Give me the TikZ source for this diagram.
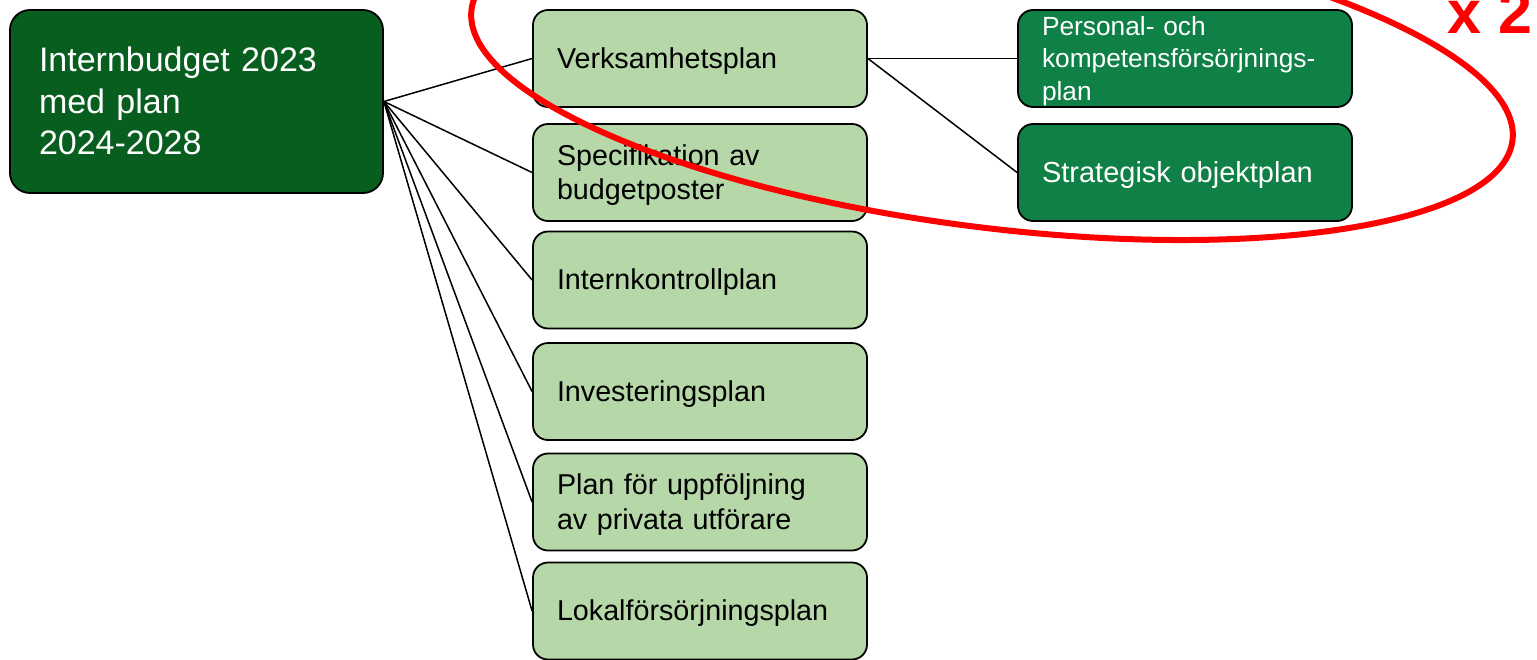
\documentclass[tikz,border=0pt]{standalone}
\usepackage{fontspec}
\setmainfont{Liberation Sans}
\definecolor{darkg}{HTML}{075E1F}
\definecolor{medg}{HTML}{0F8046}
\definecolor{lightg}{HTML}{B6D7A8}
\newcommand\ppstrut{\rule[-0.212em]{0pt}{1.117em}}
\begin{document}
\begin{tikzpicture}[x=1pt,y=-1pt,
  box/.style={draw=black, line width=1.8pt, rounded corners=15pt, align=left,
    inner xsep=24pt, inner ysep=0pt, text width=286pt, minimum height=97pt},
  midbox/.style={box, fill=lightg, text=black, font=\fontsize{28.7pt}{34.5pt}\selectfont},
  rightbox/.style={box, fill=medg, text=white},
  rootbox/.style={draw=black, line width=1.8pt, rounded corners=20pt, align=left,
    fill=darkg, text=white, inner xsep=29pt, inner ysep=0pt, text width=315pt,
    minimum height=183pt, font=\fontsize{34pt}{41.5pt}\selectfont},
  conn/.style={draw=black, line width=1.5pt},
  ring/.style={draw=red, line width=6pt}
]
\useasboundingbox (0,0) rectangle (1537,659);

\node[rootbox] (root) at (196.5,101.5) {\ppstrut Internbudget 2023\\med plan\\2024-2028\ppstrut};

\node[midbox] (m1) at (700,58.5) {\ppstrut Verksamhetsplan};
\node[midbox] (m2) at (700,172.5) {\ppstrut Specifikation av\\budgetposter\ppstrut};
\node[midbox] (m3) at (700,280) {\ppstrut Internkontrollplan};
\node[midbox] (m4) at (700,391.5) {\ppstrut Investeringsplan};
\node[midbox] (m5) at (700,502) {\ppstrut Plan för uppföljning\\av privata utförare\ppstrut};
\node[midbox] (m6) at (700,611) {\ppstrut Lokalförsörjningsplan};

\node[rightbox, font=\fontsize{26.3pt}{32.5pt}\selectfont] (r1) at (1185,58.5)
  {\ppstrut Personal- och\\kompetensförsörjnings-\\plan\ppstrut};
\node[rightbox, font=\fontsize{29pt}{34.5pt}\selectfont] (r2) at (1185,172.5)
  {\ppstrut Strategisk objektplan};

\foreach \m in {m1,m2,m3,m4,m5,m6} {\draw[conn] (root.east) -- (\m.west);}
\draw[conn] (m1.east) -- (r1.west);
\draw[conn] (m1.east) -- (r2.west);

\draw[ring, rotate around={-7.18:(992,75)}] (992,75) ellipse [x radius=524.6pt, y radius=152.6pt];

\node[font=\bfseries\fontsize{61pt}{61pt}\selectfont, text=red, anchor=base west, inner sep=0pt] (x2) at (1447,33) {x 2};
\end{tikzpicture}
\end{document}
